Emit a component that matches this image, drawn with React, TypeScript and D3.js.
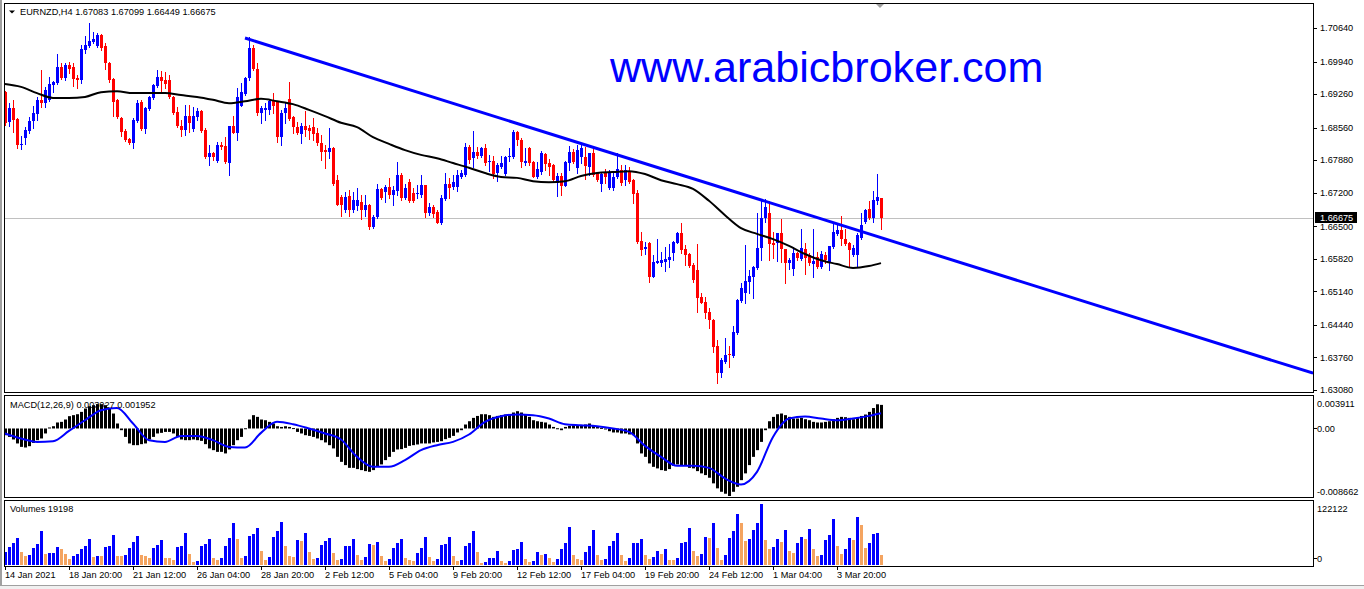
import React from 'react';
import * as d3 from 'd3';

// ---- chart data -----------------------------------------------------------
const SYMBOL = 'EURNZD,H4';
const LAST_QUOTE = ['1.67083', '1.67099', '1.66449', '1.66675'];
const BID = 1.66675;

const timeLabels = [
  '14 Jan 2021', '18 Jan 20:00', '21 Jan 12:00', '26 Jan 04:00', '28 Jan 20:00',
  '2 Feb 12:00', '5 Feb 04:00', '9 Feb 20:00', '12 Feb 12:00', '17 Feb 04:00',
  '19 Feb 20:00', '24 Feb 12:00', '1 Mar 04:00', '3 Mar 20:00',
];
const LABEL_EVERY = 16;

const priceTicks = [1.7064, 1.6994, 1.6926, 1.6856, 1.6788, 1.672, 1.665, 1.6582, 1.6514, 1.6444, 1.6376, 1.6308];

const opens = [
  1.6930, 1.6868, 1.6897, 1.6874, 1.6820, 1.6834, 1.6849, 1.6870, 1.6884, 1.6914,
  1.6907, 1.6914, 1.6945, 1.6949, 1.6982, 1.6960, 1.6987, 1.6982, 1.6960, 1.6955,
  1.7018, 1.7026, 1.7035, 1.7026, 1.7049, 1.7026, 1.6991, 1.6957, 1.6914, 1.6876,
  1.6849, 1.6832, 1.6824, 1.6870, 1.6909, 1.6853, 1.6895, 1.6918, 1.6943, 1.6962,
  1.6955, 1.6955, 1.6920, 1.6888, 1.6859, 1.6851, 1.6880, 1.6853, 1.6878, 1.6891,
  1.6851, 1.6795, 1.6803, 1.6786, 1.6820, 1.6817, 1.6782, 1.6859, 1.6845, 1.6901,
  1.6926, 1.6960, 1.7022, 1.6978, 1.6886, 1.6893, 1.6893, 1.6911, 1.6909, 1.6836,
  1.6886, 1.6916, 1.6878, 1.6857, 1.6843, 1.6859, 1.6855, 1.6857, 1.6845, 1.6824,
  1.6809, 1.6805, 1.6813, 1.6746, 1.6711, 1.6684, 1.6713, 1.6684, 1.6692, 1.6701,
  1.6684, 1.6694, 1.6648, 1.6669, 1.6728, 1.6721, 1.6732, 1.6715, 1.6724, 1.6757,
  1.6709, 1.6742, 1.6719, 1.6717, 1.6715, 1.6736, 1.6678, 1.6690, 1.6680, 1.6657,
  1.6707, 1.6738, 1.6732, 1.6732, 1.6753, 1.6757, 1.6815, 1.6792, 1.6805, 1.6797,
  1.6813, 1.6784, 1.6786, 1.6761, 1.6774, 1.6759, 1.6795, 1.6795, 1.6847, 1.6830,
  1.6782, 1.6813, 1.6784, 1.6753, 1.6763, 1.6801, 1.6782, 1.6778, 1.6740, 1.6755,
  1.6734, 1.6782, 1.6805, 1.6772, 1.6795, 1.6795, 1.6774, 1.6803, 1.6761, 1.6738,
  1.6761, 1.6730, 1.6730, 1.6753, 1.6767, 1.6746, 1.6765, 1.6746, 1.6719, 1.6619,
  1.6602, 1.6615, 1.6544, 1.6573, 1.6573, 1.6575, 1.6579, 1.6594, 1.6615, 1.6636,
  1.6602, 1.6592, 1.6569, 1.6558, 1.6502, 1.6492, 1.6471, 1.6454, 1.6400, 1.6343,
  1.6366, 1.6383, 1.6379, 1.6427, 1.6494, 1.6510, 1.6533, 1.6544, 1.6563, 1.6604,
  1.6667, 1.6678, 1.6615, 1.6615, 1.6636, 1.6602, 1.6573, 1.6561, 1.6594, 1.6581,
  1.6602, 1.6590, 1.6571, 1.6586, 1.6565, 1.6590, 1.6575, 1.6606, 1.6634, 1.6642,
  1.6623, 1.6615, 1.6590, 1.6590, 1.6625, 1.6659, 1.6686, 1.6667, 1.6703, 1.67083,
];

const highs = [
  1.6932, 1.6907, 1.6914, 1.6876, 1.6838, 1.6857, 1.6878, 1.6901, 1.6920, 1.6976,
  1.6941, 1.6962, 1.6953, 1.7010, 1.6991, 1.6991, 1.6993, 1.6991, 1.6966, 1.7028,
  1.7047, 1.7074, 1.7056, 1.7054, 1.7051, 1.7033, 1.6993, 1.6959, 1.6916, 1.6878,
  1.6853, 1.6834, 1.6876, 1.6914, 1.6914, 1.6899, 1.6922, 1.6947, 1.6976, 1.6974,
  1.6972, 1.6966, 1.6922, 1.6899, 1.6872, 1.6903, 1.6903, 1.6899, 1.6897, 1.6893,
  1.6855, 1.6820, 1.6805, 1.6826, 1.6826, 1.6836, 1.6859, 1.6880, 1.6939, 1.6949,
  1.6962, 1.7045, 1.7028, 1.6991, 1.6901, 1.6907, 1.6916, 1.6928, 1.6911, 1.6893,
  1.6907, 1.6951, 1.6880, 1.6868, 1.6866, 1.6891, 1.6861, 1.6876, 1.6855, 1.6840,
  1.6820, 1.6855, 1.6815, 1.6757, 1.6715, 1.6721, 1.6726, 1.6721, 1.6730, 1.6715,
  1.6715, 1.6696, 1.6673, 1.6738, 1.6730, 1.6736, 1.6751, 1.6734, 1.6784, 1.6761,
  1.6738, 1.6749, 1.6730, 1.6736, 1.6757, 1.6736, 1.6698, 1.6694, 1.6684, 1.6715,
  1.6761, 1.6751, 1.6757, 1.6767, 1.6767, 1.6824, 1.6820, 1.6849, 1.6815, 1.6815,
  1.6822, 1.6799, 1.6797, 1.6782, 1.6797, 1.6797, 1.6813, 1.6851, 1.6849, 1.6834,
  1.6813, 1.6815, 1.6786, 1.6784, 1.6807, 1.6803, 1.6790, 1.6780, 1.6761, 1.6761,
  1.6786, 1.6817, 1.6811, 1.6820, 1.6822, 1.6815, 1.6803, 1.6817, 1.6763, 1.6763,
  1.6769, 1.6767, 1.6761, 1.6803, 1.6778, 1.6778, 1.6774, 1.6749, 1.6726, 1.6638,
  1.6617, 1.6617, 1.6590, 1.6623, 1.6596, 1.6606, 1.6613, 1.6619, 1.6638, 1.6657,
  1.6611, 1.6594, 1.6573, 1.6613, 1.6510, 1.6502, 1.6479, 1.6456, 1.6412, 1.6375,
  1.6416, 1.6400, 1.6442, 1.6498, 1.6531, 1.6611, 1.6558, 1.6567, 1.6678, 1.6705,
  1.6707, 1.6703, 1.6638, 1.6636, 1.6665, 1.6602, 1.6584, 1.6606, 1.6596, 1.6644,
  1.6615, 1.6594, 1.6644, 1.6596, 1.6598, 1.6596, 1.6609, 1.6657, 1.6657, 1.6671,
  1.6644, 1.6617, 1.6611, 1.6636, 1.6678, 1.6686, 1.6703, 1.6724, 1.6759, 1.67099,
];

const lows = [
  1.6861, 1.6859, 1.6847, 1.6813, 1.6811, 1.6822, 1.6845, 1.6855, 1.6872, 1.6899,
  1.6899, 1.6912, 1.6930, 1.6947, 1.6957, 1.6955, 1.6970, 1.6943, 1.6939, 1.6949,
  1.7012, 1.7024, 1.7033, 1.7024, 1.7018, 1.6978, 1.6951, 1.6880, 1.6876, 1.6838,
  1.6828, 1.6822, 1.6813, 1.6868, 1.6851, 1.6845, 1.6893, 1.6916, 1.6941, 1.6930,
  1.6939, 1.6918, 1.6884, 1.6857, 1.6838, 1.6840, 1.6847, 1.6849, 1.6872, 1.6847,
  1.6792, 1.6778, 1.6788, 1.6784, 1.6811, 1.6782, 1.6757, 1.6845, 1.6830, 1.6901,
  1.6924, 1.6955, 1.6976, 1.6882, 1.6866, 1.6872, 1.6884, 1.6886, 1.6826, 1.6820,
  1.6866, 1.6872, 1.6845, 1.6843, 1.6824, 1.6838, 1.6832, 1.6830, 1.6820, 1.6788,
  1.6771, 1.6792, 1.6736, 1.6694, 1.6671, 1.6680, 1.6671, 1.6680, 1.6684, 1.6665,
  1.6671, 1.6644, 1.6646, 1.6667, 1.6707, 1.6701, 1.6709, 1.6694, 1.6715, 1.6705,
  1.6707, 1.6701, 1.6701, 1.6709, 1.6711, 1.6669, 1.6673, 1.6669, 1.6657, 1.6655,
  1.6705, 1.6709, 1.6728, 1.6723, 1.6751, 1.6755, 1.6782, 1.6774, 1.6792, 1.6795,
  1.6778, 1.6765, 1.6751, 1.6744, 1.6771, 1.6757, 1.6786, 1.6792, 1.6820, 1.6774,
  1.6778, 1.6778, 1.6753, 1.6751, 1.6759, 1.6767, 1.6757, 1.6744, 1.6713, 1.6715,
  1.6734, 1.6767, 1.6782, 1.6761, 1.6782, 1.6749, 1.6757, 1.6755, 1.6744, 1.6723,
  1.6740, 1.6728, 1.6726, 1.6751, 1.6736, 1.6736, 1.6740, 1.6698, 1.6615, 1.6590,
  1.6592, 1.6534, 1.6544, 1.6573, 1.6567, 1.6556, 1.6565, 1.6579, 1.6615, 1.6594,
  1.6569, 1.6565, 1.6534, 1.6471, 1.6490, 1.6458, 1.6437, 1.6387, 1.6322, 1.6335,
  1.6364, 1.6356, 1.6377, 1.6425, 1.6492, 1.6490, 1.6510, 1.6500, 1.6561, 1.6579,
  1.6659, 1.6579, 1.6584, 1.6577, 1.6575, 1.6531, 1.6561, 1.6548, 1.6579, 1.6579,
  1.6550, 1.6569, 1.6544, 1.6563, 1.6563, 1.6573, 1.6558, 1.6604, 1.6632, 1.6611,
  1.6611, 1.6565, 1.6588, 1.6567, 1.6623, 1.6657, 1.6665, 1.6659, 1.6696, 1.66449,
];

const closes = [
  1.6866, 1.6897, 1.6872, 1.6820, 1.6822, 1.6851, 1.6870, 1.6886, 1.6914, 1.6907,
  1.6934, 1.6947, 1.6951, 1.6982, 1.6960, 1.6987, 1.6978, 1.6957, 1.6955, 1.7020,
  1.7028, 1.7037, 1.7041, 1.7049, 1.7022, 1.6991, 1.6955, 1.6909, 1.6878, 1.6847,
  1.6830, 1.6824, 1.6872, 1.6907, 1.6853, 1.6897, 1.6920, 1.6945, 1.6962, 1.6953,
  1.6947, 1.6920, 1.6886, 1.6859, 1.6851, 1.6880, 1.6866, 1.6880, 1.6891, 1.6849,
  1.6795, 1.6803, 1.6795, 1.6820, 1.6815, 1.6784, 1.6859, 1.6845, 1.6920, 1.6930,
  1.6960, 1.7022, 1.6978, 1.6886, 1.6897, 1.6897, 1.6911, 1.6901, 1.6836, 1.6886,
  1.6897, 1.6874, 1.6857, 1.6845, 1.6859, 1.6851, 1.6849, 1.6843, 1.6824, 1.6805,
  1.6805, 1.6813, 1.6738, 1.6694, 1.6694, 1.6711, 1.6684, 1.6705, 1.6705, 1.6684,
  1.6694, 1.6648, 1.6669, 1.6728, 1.6709, 1.6732, 1.6715, 1.6726, 1.6757, 1.6709,
  1.6730, 1.6703, 1.6703, 1.6719, 1.6736, 1.6678, 1.6690, 1.6675, 1.6657, 1.6709,
  1.6738, 1.6730, 1.6742, 1.6757, 1.6761, 1.6815, 1.6788, 1.6805, 1.6797, 1.6813,
  1.6782, 1.6786, 1.6759, 1.6778, 1.6782, 1.6795, 1.6797, 1.6847, 1.6830, 1.6784,
  1.6786, 1.6782, 1.6753, 1.6769, 1.6803, 1.6780, 1.6774, 1.6746, 1.6755, 1.6734,
  1.6784, 1.6805, 1.6784, 1.6809, 1.6813, 1.6776, 1.6803, 1.6757, 1.6746, 1.6759,
  1.6753, 1.6761, 1.6753, 1.6769, 1.6740, 1.6767, 1.6742, 1.6717, 1.6617, 1.6600,
  1.6607, 1.6544, 1.6575, 1.6577, 1.6579, 1.6581, 1.6586, 1.6617, 1.6636, 1.6600,
  1.6590, 1.6567, 1.6538, 1.6500, 1.6490, 1.6469, 1.6454, 1.6398, 1.6343, 1.6370,
  1.6381, 1.6381, 1.6429, 1.6496, 1.6521, 1.6535, 1.6546, 1.6565, 1.6604, 1.6667,
  1.6690, 1.6613, 1.6611, 1.6636, 1.6602, 1.6573, 1.6579, 1.6594, 1.6584, 1.6604,
  1.6584, 1.6573, 1.6577, 1.6565, 1.6592, 1.6579, 1.6609, 1.6638, 1.6642, 1.6623,
  1.6613, 1.6600, 1.6604, 1.6632, 1.6652, 1.6684, 1.6667, 1.6705, 1.6711, 1.66675,
];

// moving average, sampled every fourth bar
const maBars = [
  0, 4, 8, 12, 16, 20, 24, 28, 32, 36, 40, 44, 48, 52, 56, 60, 64, 68, 72, 76,
  80, 84, 88, 92, 96, 100, 104, 108, 112, 116, 120, 124, 128, 132, 136, 140, 144, 148, 152, 156,
  160, 164, 168, 172, 176, 180, 184, 188, 192, 196, 200, 204, 208, 212, 216, 219,
];
const maValues = [
  1.6947, 1.6941, 1.6928, 1.6918, 1.6918, 1.6920, 1.6930, 1.6932, 1.6928, 1.6928,
  1.6928, 1.6924, 1.6920, 1.6914, 1.6907, 1.6911, 1.6916, 1.6911, 1.6905, 1.6893,
  1.6880, 1.6866, 1.6857, 1.6836, 1.6822, 1.6809, 1.6799, 1.6792, 1.6782, 1.6772,
  1.6761, 1.6753, 1.6751, 1.6744, 1.6742, 1.6744, 1.6755, 1.6761, 1.6763, 1.6765,
  1.6759, 1.6746, 1.6738, 1.6728, 1.6703, 1.6673, 1.6646, 1.6634, 1.6623, 1.6609,
  1.6592, 1.6579, 1.6571, 1.6563, 1.6567, 1.6573,
];

// trend line anchors (bar index, price), drawn as a ray to the right
const trendBars = [60, 200];
const trendPrices = [1.7043, 1.6676];

// MACD(12,26,9): main values drawn as histogram, signal sampled every fourth bar
const macdMain = [
  -0.00086, -0.00108, -0.00141, -0.00192, -0.00236, -0.00244, -0.00227, -0.00185, -0.00150, -0.00128,
  -0.00064, 0.00013, 0.00029, 0.00077, 0.00085, 0.00115, 0.00158, 0.00171, 0.00183, 0.00213,
  0.00256, 0.00286, 0.00299, 0.00312, 0.00312, 0.00299, 0.00256, 0.00192, 0.00064, -0.00022,
  -0.00108, -0.00192, -0.00214, -0.00214, -0.00201, -0.00192, -0.00141, -0.00108, -0.00064, -0.00056,
  -0.00044, -0.00044, -0.00064, -0.00108, -0.00141, -0.00150, -0.00150, -0.00141, -0.00150, -0.00159,
  -0.00201, -0.00256, -0.00278, -0.00300, -0.00300, -0.00320, -0.00269, -0.00214, -0.00150, -0.00108,
  0.00003, 0.00115, 0.00171, 0.00149, 0.00115, 0.00106, 0.00085, 0.00064, 0.00029, 0.00020,
  0.00029, 0.00020, 0.00005, -0.00044, -0.00064, -0.00086, -0.00095, -0.00108, -0.00128, -0.00150,
  -0.00179, -0.00214, -0.00256, -0.00364, -0.00428, -0.00470, -0.00505, -0.00505, -0.00521, -0.00534,
  -0.00547, -0.00556, -0.00534, -0.00492, -0.00461, -0.00406, -0.00364, -0.00300, -0.00269, -0.00265,
  -0.00249, -0.00223, -0.00214, -0.00205, -0.00192, -0.00192, -0.00192, -0.00179, -0.00172, -0.00163,
  -0.00137, -0.00120, -0.00095, -0.00051, -0.00022, 0.00051, 0.00093, 0.00136, 0.00161, 0.00183,
  0.00183, 0.00171, 0.00149, 0.00161, 0.00171, 0.00179, 0.00179, 0.00205, 0.00222, 0.00205,
  0.00179, 0.00149, 0.00106, 0.00093, 0.00085, 0.00077, 0.00051, 0.00020, 0.00003, -0.00022,
  0.00020, 0.00033, 0.00042, 0.00042, 0.00042, 0.00051, 0.00064, 0.00033, 0.00020, 0.00008,
  -0.00009, -0.00035, -0.00051, -0.00051, -0.00064, -0.00064, -0.00077, -0.00086, -0.00192, -0.00320,
  -0.00364, -0.00448, -0.00492, -0.00512, -0.00534, -0.00543, -0.00521, -0.00479, -0.00461, -0.00470,
  -0.00479, -0.00505, -0.00512, -0.00547, -0.00576, -0.00598, -0.00632, -0.00704, -0.00768, -0.00812,
  -0.00837, -0.008662, -0.00812, -0.00748, -0.00663, -0.00576, -0.00470, -0.00364, -0.00278, -0.00172,
  -0.00022, 0.00093, 0.00149, 0.00183, 0.00192, 0.00171, 0.00149, 0.00128, 0.00128, 0.00136,
  0.00119, 0.00106, 0.00085, 0.00077, 0.00077, 0.00085, 0.00093, 0.00119, 0.00136, 0.00149,
  0.00145, 0.00136, 0.00119, 0.00136, 0.00161, 0.00179, 0.00213, 0.00262, 0.003105, 0.003027,
];
const signalBars = maBars;
const signalValues = [
  -0.00064, -0.00128, -0.00172, -0.00163, -0.00031, 0.00106, 0.00235, 0.00264, 0.00064, -0.00150,
  -0.00172, -0.00095, -0.00095, -0.00150, -0.00236, -0.00244, -0.00056, 0.00085, 0.00055, 0.0,
  -0.00064, -0.00141, -0.00364, -0.00492, -0.00492, -0.00406, -0.00278, -0.00214, -0.00172, -0.00077,
  0.00085, 0.00158, 0.00179, 0.00171, 0.00128, 0.00055, 0.00042, 0.00029, 0.0, -0.00044,
  -0.00223, -0.00364, -0.00479, -0.00479, -0.00505, -0.00641, -0.00718, -0.00556, -0.00108, 0.00128,
  0.00154, 0.00128, 0.00106, 0.00128, 0.00162, 0.001952,
];
const MACD_MAX = 0.003911;
const MACD_MIN = -0.008662;

const volumes = [
  26000, 36000, 44000, 54000, 26000, 18000, 20000, 34000, 42000, 68000,
  22000, 24000, 24700, 36000, 32000, 22000, 12000, 18000, 22000, 32000,
  38000, 52000, 16000, 18000, 18000, 36000, 38000, 60000, 18000, 18000,
  20000, 34000, 46000, 58700, 20000, 18000, 14000, 34000, 40000, 50000,
  14000, 14000, 10000, 36000, 38000, 64000, 22000, 6000, 8000, 38000,
  42000, 52000, 14000, 10000, 14000, 38000, 54000, 84000, 52000, 14000,
  18000, 58000, 62000, 74000, 28000, 10000, 16000, 56000, 68000, 86000,
  38000, 18000, 16000, 50000, 48000, 64000, 26000, 12000, 14000, 40000,
  48000, 54000, 24000, 10000, 12000, 38000, 38500, 52000, 20000, 10000,
  16000, 42000, 40000, 46000, 18000, 8000, 12000, 34000, 44000, 52000,
  14000, 10000, 8000, 24000, 34000, 56000, 16000, 8000, 12000, 40000,
  42000, 56000, 18000, 8000, 10000, 38000, 44000, 68000, 26000, 4000,
  6000, 14000, 15000, 28000, 8000, 4000, 8000, 30000, 32000, 46000,
  12000, 6000, 8000, 26000, 20000, 22000, 14000, 6000, 12000, 32000,
  44000, 76000, 20000, 12000, 10000, 26000, 38000, 70000, 20000, 10000,
  12000, 38000, 48000, 64000, 20000, 8000, 14000, 44000, 44500, 52000,
  20000, 12000, 16000, 28000, 22000, 32000, 10000, 10000, 14000, 44000,
  46000, 74000, 28000, 18000, 22000, 56000, 55000, 84000, 34000, 10000,
  20000, 54000, 68000, 102000, 84000, 48000, 52000, 70000, 84000, 122122,
  50000, 32000, 36000, 52000, 46000, 70000, 28000, 24000, 44000, 56000,
  52000, 72000, 32000, 18000, 20000, 50000, 60000, 92000, 38000, 22000,
  32000, 54000, 50000, 96000, 80000, 34000, 44000, 62000, 64000, 19198,
];
const VOLUME_MAX = 122122;

// ---- appearance -----------------------------------------------------------
const W = 1364;
const H = 589;
const FONT = '"Liberation Sans", Arial, sans-serif';
const FS = 9.2;
const BULL = '#0000ff';
const BEAR = '#ff0000';
const VOL_UP = '#0000ff';
const VOL_DOWN = '#f4a460';

const PLOT_L = 4;
const PLOT_R = 1313;
const MAIN = { top: 3, bottom: 392 };
const MACD = { top: 395, bottom: 497 };
const VOL = { top: 500, bottom: 566 };

export default function App() {
  const n = opens.length;
  const x = d3.scaleLinear().domain([0, n - 1]).range([5, 881]);
  const y = d3.scaleLinear().domain([1.63038, 1.71162]).range([MAIN.bottom, MAIN.top]);
  const ym = d3.scaleLinear().domain([MACD_MIN, MACD_MAX]).range([496, 398]);
  const yv = d3.scaleLinear().domain([0, VOLUME_MAX]).range([565, 504]);

  const px = (i: number) => Math.round(x(i));

  const maLine = d3
    .line<number>()
    .x((b) => x(b))
    .y((_, k) => y(maValues[k]))
    .curve(d3.curveMonotoneX)(maBars);

  const signalLine = d3
    .line<number>()
    .x((b) => x(b))
    .y((_, k) => ym(signalValues[k]))
    .curve(d3.curveMonotoneX)(signalBars);

  // trend ray
  const slope = (trendPrices[1] - trendPrices[0]) / (trendBars[1] - trendBars[0]);
  const endBar = x.invert(PLOT_R);
  const trendEnd = trendPrices[0] + slope * (endBar - trendBars[0]);

  const text = (
    s: string,
    tx: number,
    ty: number,
    extra: Record<string, unknown> = {}
  ) => (
    <text x={tx} y={ty} fontFamily={FONT} fontSize={FS} fill="#000" {...extra}>
      {s}
    </text>
  );

  const macdTicks: [string, number][] = [
    [MACD_MAX.toFixed(6), 407],
    ['0.00', 431.5],
    [MACD_MIN.toFixed(6), 494.5],
  ];

  return (
    <svg
      width={W}
      height={H}
      viewBox={`0 0 ${W} ${H}`}
      style={{ position: 'absolute', left: 0, top: 0, display: 'block', background: '#fff' }}
    >
      <defs>
        <clipPath id="clipMain">
          <rect x={PLOT_L} y={MAIN.top} width={PLOT_R - PLOT_L} height={MAIN.bottom - MAIN.top} />
        </clipPath>
      </defs>
      <rect x={0} y={0} width={W} height={H} fill="#fff" />
      <rect x={0} y={0} width={2} height={H} fill="#a0a0a0" />

      {/* ---------------- main price panel ---------------- */}
      <line x1={PLOT_L} x2={PLOT_R} y1={Math.round(y(BID)) + 0.5} y2={Math.round(y(BID)) + 0.5} stroke="#c0c0c0" />

      <g clipPath="url(#clipMain)">
        {opens.map((o, i) => {
          const c = closes[i];
          const col = c > o ? BULL : BEAR;
          const cx = px(i);
          const yO = Math.round(y(o));
          const yC = Math.round(y(c));
          const top = Math.min(yO, yC);
          const h = Math.max(1, Math.abs(yO - yC));
          return (
            <g key={i}>
              <line x1={cx + 0.5} x2={cx + 0.5} y1={Math.round(y(highs[i]))} y2={Math.round(y(lows[i])) + 1} stroke={col} />
              <rect x={cx - 1} y={top} width={3} height={h} fill={col} />
            </g>
          );
        })}
        <path d={maLine || ''} fill="none" stroke="#000" strokeWidth={2} />
        <line
          x1={x(trendBars[0])}
          y1={y(trendPrices[0])}
          x2={PLOT_R}
          y2={y(trendEnd)}
          stroke="#0000ff"
          strokeWidth={3}
        />
      </g>

      <text x={610} y={82} fontFamily={FONT} fontSize={43.1} fill="#0000ff">
        www.arabicbroker.com
      </text>

      {/* title */}
      <polygon points="9,10.5 15,10.5 12,13.5" fill="#000" />
      {text(`${SYMBOL}  ${LAST_QUOTE.join(' ')}`, 20, 15)}

      {/* chart shift marker */}
      <polygon points="875,3 885,3 880,8" fill="#a0a0a0" />

      <rect x={PLOT_L + 0.5} y={MAIN.top + 0.5} width={PLOT_R - PLOT_L} height={MAIN.bottom - MAIN.top} fill="none" stroke="#000" />

      {/* price axis */}
      {priceTicks.map((p) => (
        <g key={p}>
          <line x1={PLOT_R} x2={PLOT_R + 4} y1={Math.round(y(p)) + 0.5} y2={Math.round(y(p)) + 0.5} stroke="#000" />
          {text(p.toFixed(5), 1320, y(p) + 3.3)}
        </g>
      ))}
      <rect x={1315} y={212} width={42} height={11} fill="#000" />
      {text(BID.toFixed(5), 1320, y(BID) + 3.3, { fill: '#fff' })}

      {/* ---------------- MACD panel ---------------- */}
      {macdMain.map((v, i) => {
        const y0 = ym(0);
        const y1 = ym(v);
        return (
          <rect
            key={i}
            x={px(i) - 1}
            y={Math.min(y0, y1)}
            width={3}
            height={Math.max(1, Math.abs(y1 - y0))}
            fill="#000"
          />
        );
      })}
      <path d={signalLine || ''} fill="none" stroke="#0000ff" strokeWidth={2} />
      <rect x={PLOT_L + 0.5} y={MACD.top + 0.5} width={PLOT_R - PLOT_L} height={MACD.bottom - MACD.top} fill="none" stroke="#000" />
      {text(`MACD(12,26,9) ${macdMain[n - 1].toFixed(6)} ${signalValues[signalValues.length - 1].toFixed(6)}`, 10, 408)}
      {macdTicks.map(([s, ty]) => (
        <g key={s}>{text(s, 1317, ty)}</g>
      ))}
      <line x1={PLOT_R} x2={PLOT_R + 4} y1={ym(0)} y2={ym(0)} stroke="#000" />

      {/* ---------------- volume panel ---------------- */}
      {volumes.map((v, i) => {
        const up = i === 0 || v > volumes[i - 1];
        const top = Math.round(yv(v));
        return (
          <rect key={i} x={px(i) - 1} y={top} width={3} height={yv(0) - top} fill={up ? VOL_UP : VOL_DOWN} />
        );
      })}
      <rect x={PLOT_L + 0.5} y={VOL.top + 0.5} width={PLOT_R - PLOT_L} height={VOL.bottom - VOL.top} fill="none" stroke="#000" />
      {text(`Volumes ${volumes[n - 1]}`, 10, 512)}
      {text(String(VOLUME_MAX), 1317, 511.5)}
      {text('0', 1317, 561.5)}
      <line x1={PLOT_R} x2={PLOT_R + 4} y1={558.5} y2={558.5} stroke="#000" />

      {/* ---------------- time axis ---------------- */}
      {timeLabels.map((s, k) => {
        const bx = px(k * LABEL_EVERY);
        return (
          <g key={s}>
            <line x1={bx + 0.5} x2={bx + 0.5} y1={VOL.bottom} y2={VOL.bottom + 4} stroke="#000" />
            {text(s, bx, 577.5)}
          </g>
        );
      })}
      <rect x={0} y={585} width={W} height={4} fill="#f0f0f0" />
      <line x1={0} x2={W} y1={585.5} y2={585.5} stroke="#a0a0a0" />
    </svg>
  );
}
